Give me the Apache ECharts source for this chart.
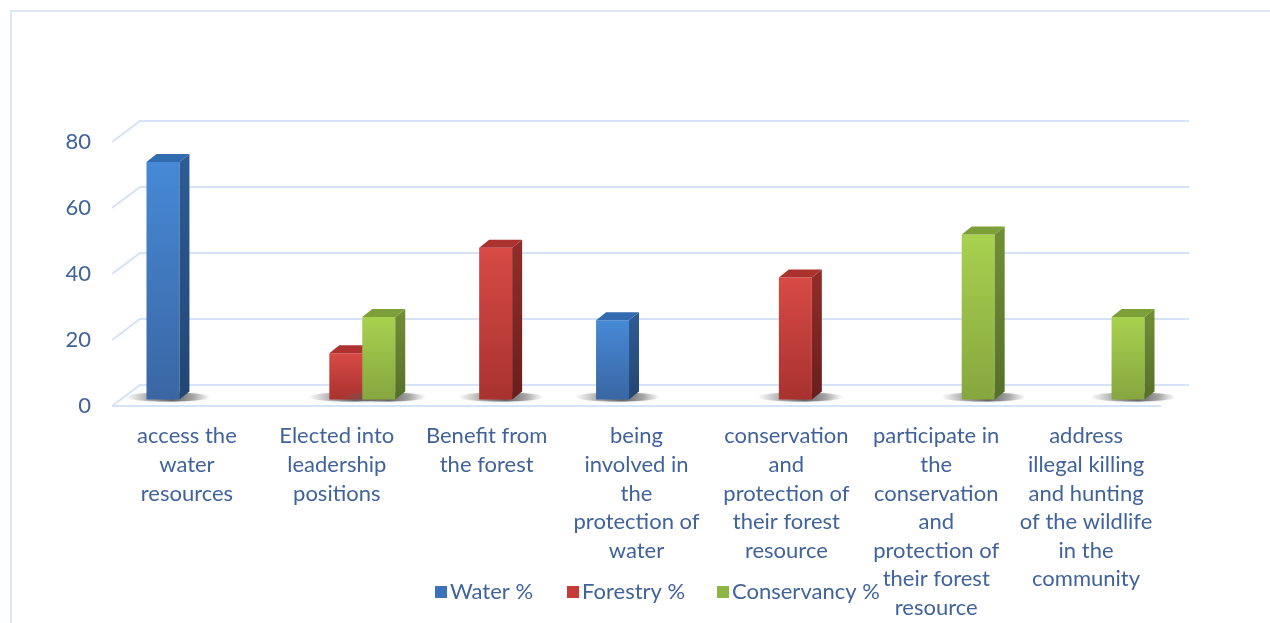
<!DOCTYPE html>
<html>
<head>
<meta charset="utf-8">
<script src="https://cdn.jsdelivr.net/npm/echarts@6/dist/echarts.min.js"></script>
<style>
  html, body { margin: 0; padding: 0; background: #ffffff; }
  #chart { width: 1270px; height: 623px; }
</style>
</head>
<body>
<div id="chart"></div>
<script>
// Category labels (line breaks as they wrap under each column group)
const categories = [
  'access the\nwater\nresources',
  'Elected into\nleadership\npositions',
  'Benefit from\nthe forest',
  'being\ninvolved in\nthe\nprotection of\nwater',
  'conservation\nand\nprotection of\ntheir forest\nresource',
  'participate in\nthe\nconservation\nand\nprotection of\ntheir forest\nresource',
  'address\nillegal killing\nand hunting\nof the wildlife\nin the\ncommunity'
];

// Percentages per category (null = no column)
const waterPct       = [72, null, null, 24, null, null, null];
const forestryPct    = [null, 14, 46, null, 37, null, null];
const conservancyPct = [null, 25, null, null, null, 50, 25];

const seriesNames = ['Water %', 'Forestry %', 'Conservancy %'];
const yTicks = [0, 20, 40, 60, 80];

const TEXT = '#41639A';
const FONT = 'Lato';
const GRID_LINE = '#D6E3F4';

// Oblique projection offsets
const WALL_DX = 28, WALL_DY = -21;   // front plane -> back wall
const BAR_DX = 9, BAR_DY = -6.5;     // front plane -> column front face
const SIDE_DX = 10, SIDE_DY = -8;    // column depth
const SLOT = 0.22;                   // column width as share of a category band

const palettes = [
  { legend: '#3C70BA', frontTop: '#4789D6', frontBot: '#3A66A3', sideTop: '#2E5C95', sideBot: '#224673', top: '#326CAE' },
  { legend: '#C83A36', frontTop: '#D84A46', frontBot: '#A8322F', sideTop: '#922D2A', sideBot: '#6A1E1C', top: '#AB322E' },
  { legend: '#8DB543', frontTop: '#A8D14F', frontBot: '#86A63F', sideTop: '#718F35', sideBot: '#566F29', top: '#7D9F39' }
];

function vGrad(a, b) {
  return { type: 'linear', x: 0, y: 0, x2: 0, y2: 1, colorStops: [{ offset: 0, color: a }, { offset: 1, color: b }] };
}

function columnRenderer(slot, pal) {
  return function (params, api) {
    const ci = api.value(0);
    const v = api.value(1);
    const band = api.size([1, 0])[0];
    const w = band * SLOT;
    const base = api.coord([ci, 0]);
    const top = api.coord([ci, v]);
    const cx = base[0] + (slot - 1) * w + BAR_DX;
    const x0 = cx - w / 2, x1 = cx + w / 2;
    const yb = base[1] + BAR_DY, yt = top[1] + BAR_DY;
    return {
      type: 'group',
      children: [
        {
          // soft floor shadow at the column foot
          type: 'ellipse',
          shape: { cx: cx + 5, cy: yb - 2.5, rx: w * 1.3, ry: 4.5 },
          style: {
            fill: { type: 'linear', x: 0, y: 0, x2: 1, y2: 0, colorStops: [
              { offset: 0, color: 'rgba(120,120,120,0)' },
              { offset: 0.3, color: 'rgba(80,80,80,0.45)' },
              { offset: 0.55, color: 'rgba(60,60,60,0.75)' },
              { offset: 0.8, color: 'rgba(90,90,90,0.45)' },
              { offset: 1, color: 'rgba(140,140,140,0)' }] },
            shadowBlur: 3,
            shadowColor: 'rgba(100,100,100,0.4)'
          },
          z2: 0
        },
        {
          type: 'rect',
          shape: { x: x0, y: yt, width: w, height: yb - yt },
          style: { fill: vGrad(pal.frontTop, pal.frontBot) },
          z2: 2
        },
        {
          type: 'polygon',
          shape: { points: [[x1, yt], [x1 + SIDE_DX, yt + SIDE_DY], [x1 + SIDE_DX, yb + SIDE_DY], [x1, yb]] },
          style: { fill: vGrad(pal.sideTop, pal.sideBot) },
          z2: 2
        },
        {
          type: 'polygon',
          shape: { points: [[x0, yt], [x1, yt], [x1 + SIDE_DX, yt + SIDE_DY], [x0 + SIDE_DX, yt + SIDE_DY]] },
          style: { fill: pal.top },
          z2: 3
        }
      ]
    };
  };
}

function toData(arr) {
  const out = [];
  arr.forEach((v, i) => { if (v !== null) out.push([i, v]); });
  return out;
}

// Back wall, side diagonals and floor edge drawn from the value-axis ticks
function wallRenderer(params, api) {
  const v = api.value(1);
  const band = api.size([1, 0])[0];
  const left = api.coord([0, v]);
  const right = api.coord([categories.length - 1, v]);
  const L = left[0] - band / 2;
  const R = right[0] + band / 2;
  const y = left[1];
  const children = [{
    type: 'polyline',
    shape: { points: [[L, y], [L + WALL_DX, y + WALL_DY], [R + WALL_DX, y + WALL_DY]] },
    style: { stroke: GRID_LINE, lineWidth: 2, fill: null }
  }];
  if (v === 0) {
    children.push({
      type: 'line',
      shape: { x1: L, y1: y, x2: R, y2: y },
      style: { stroke: GRID_LINE, lineWidth: 2 }
    });
  }
  return { type: 'group', children };
}

const chart = echarts.init(document.getElementById('chart'), null, { renderer: 'canvas' });

const legendLefts = [430, 562, 712];

chart.setOption({
  backgroundColor: '#ffffff',
  animation: false,
  graphic: [{
    type: 'rect',
    shape: { x: 11, y: 11, width: 1400, height: 800 },
    style: { fill: null, stroke: '#DCE6F4', lineWidth: 2 },
    silent: true
  }],
  grid: { left: 112, right: 109, top: 142, bottom: 217, containLabel: false },
  legend: seriesNames.map((name, i) => ({
    data: [name],
    left: legendLefts[i],
    top: 576,
    icon: 'rect',
    itemWidth: 12,
    itemHeight: 12,
    itemGap: 0,
    textStyle: { color: TEXT, fontFamily: FONT, fontSize: 22, padding: [0, 0, 0, -2] }
  })),
  xAxis: {
    type: 'category',
    data: categories,
    axisLine: { show: false },
    axisTick: { show: false },
    splitLine: { show: false },
    axisLabel: {
      interval: 0,
      color: TEXT,
      fontFamily: FONT,
      fontSize: 22,
      lineHeight: 28.6,
      margin: 16,
      align: 'center'
    }
  },
  yAxis: {
    type: 'value',
    min: 0,
    max: 80,
    interval: 20,
    axisLine: { show: false },
    axisTick: { show: false },
    splitLine: { show: false },
    axisLabel: { color: TEXT, fontFamily: FONT, fontSize: 22, margin: 21 }
  },
  series: [
    {
      type: 'custom',
      name: '_wall',
      silent: true,
      z: 1,
      renderItem: wallRenderer,
      data: yTicks.map(t => [0, t]),
      encode: { x: 0, y: 1 }
    },
    ...[waterPct, forestryPct, conservancyPct].map((arr, s) => ({
      type: 'custom',
      name: seriesNames[s],
      z: 2 + s,
      itemStyle: { color: palettes[s].legend },
      renderItem: columnRenderer(s, palettes[s]),
      data: toData(arr),
      encode: { x: 0, y: 1 }
    }))
  ]
});
</script>
</body>
</html>
